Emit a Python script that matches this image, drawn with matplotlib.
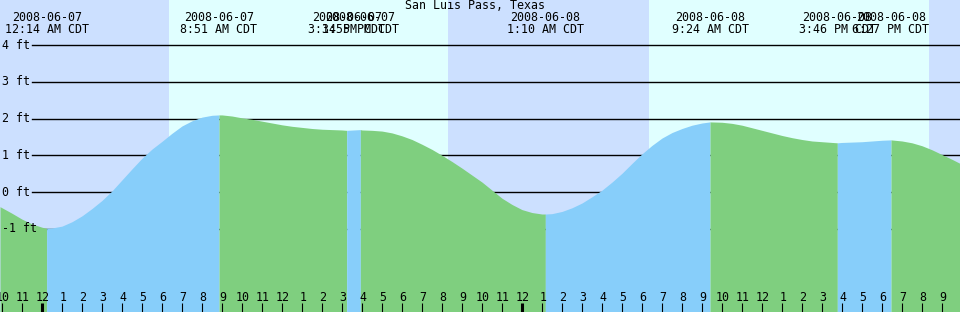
import pandas as pd
import numpy as np
import matplotlib.pyplot as plt

station = "San Luis Pass, Texas"
base = pd.Timestamp("2008-06-07 00:00")

# tide curve: hours after midnight Jun 7, height in ft
hours = [-2.1, -2, -1.5, -1, -0.5, 0, 0.5, 1, 1.5, 2, 2.5, 3, 3.5, 4, 4.5, 5,
         5.5, 6, 6.5, 7, 7.5, 8, 8.5, 9, 9.5, 10, 10.5, 11, 11.5, 12, 12.5,
         13, 13.5, 14, 14.5, 15, 16, 16.5, 17, 17.5, 18, 18.5, 19, 19.5, 20,
         20.5, 21, 21.5, 22, 22.5, 23, 23.5, 24, 24.5, 25, 25.5, 26, 26.5, 27,
         27.5, 28, 28.5, 29, 29.5, 30, 30.5, 31, 31.5, 32, 32.5, 33, 34, 34.5,
         35, 35.5, 36, 36.5, 37, 37.5, 38, 38.5, 39, 39.5, 40, 40.5, 41, 41.5,
         42, 43, 43.5, 44, 44.5, 45, 45.5, 45.9]
feet = [-0.40, -0.43, -0.58, -0.74, -0.87, -0.96, -0.98, -0.93, -0.81, -0.65,
        -0.45, -0.23, 0.03, 0.33, 0.63, 0.92, 1.17, 1.38, 1.60, 1.80, 1.94,
        2.04, 2.09, 2.10, 2.07, 2.02, 1.98, 1.93, 1.88, 1.83, 1.79, 1.76, 1.73,
        1.71, 1.70, 1.69, 1.69, 1.68, 1.66, 1.61, 1.53, 1.43, 1.30, 1.16, 1.00,
        0.83, 0.65, 0.46, 0.27, 0.05, -0.17, -0.34, -0.48, -0.56, -0.60, -0.59,
        -0.53, -0.43, -0.30, -0.13, 0.05, 0.27, 0.51, 0.78, 1.04, 1.27, 1.47,
        1.62, 1.73, 1.82, 1.88, 1.90, 1.87, 1.82, 1.75, 1.68, 1.61, 1.54, 1.48,
        1.43, 1.39, 1.37, 1.35, 1.35, 1.36, 1.37, 1.39, 1.41, 1.39, 1.34, 1.26,
        1.15, 1.02, 0.89, 0.78]

# high / low tides
event_times = ["2008-06-07 00:14", "2008-06-07 08:51", "2008-06-07 15:14",
               "2008-06-07 15:55", "2008-06-08 01:10", "2008-06-08 09:24",
               "2008-06-08 15:46", "2008-06-08 18:27"]
event_kind = ["low", "high", "low", "high", "low", "high", "low", "high"]
event_ft = [-0.99, 2.10, 1.68, 1.70, -0.60, 1.91, 1.34, 1.42]

# daylight, hours after midnight Jun 7
sunrise = [6.35, 30.35]
sunset = [20.3, 44.35]

ft_levels = [4, 3, 2, 1, 0, -1]

night_col = '#cce0ff'
day_col = '#e0ffff'
rise_col = '#87cefa'
fall_col = '#7fcf7f'
mono = 'DejaVu Sans Mono'
fs = 8.4

ev = pd.to_datetime(event_times)
ev_h = ((ev - base) / pd.Timedelta(hours=1)).to_numpy()

t = np.array(hours + list(ev_h))
h = np.array(feet + event_ft)
order = np.argsort(t)
t, h = t[order], h[order]

fig = plt.figure(figsize=(9.6, 3.12), dpi=100)
ax = fig.add_axes([0, 0, 1, 1])
x0, x1 = -2.1, 45.9
y0, y1 = -120 / 36.7, 192 / 36.7
ax.set_xlim(x0, x1)
ax.set_ylim(y0, y1)
ax.axis('off')

ax.axvspan(x0, x1, color=night_col, lw=0, zorder=0)
for a, b in zip(sunrise, sunset):
    ax.axvspan(a, b, color=day_col, lw=0, zorder=0.5)

# grid lines sit under the water
for lv in ft_levels:
    ax.plot([32 / 960 * (x1 - x0) + x0, x1], [lv, lv], color='black', lw=1.0, zorder=1)
    ax.text(0.002, lv, f"{lv} ft", ha='left', va='center', fontfamily=mono,
            fontsize=fs, transform=ax.get_yaxis_transform(), zorder=5)

# rising / falling fill between extremes
bounds = [x0] + list(ev_h) + [x1]
for i in range(len(bounds) - 1):
    a, b = bounds[i], bounds[i + 1]
    m = (t >= a) & (t <= b)
    if i == 0:
        rising = event_kind[0] == 'high'
    else:
        rising = event_kind[i - 1] == 'low'
    ax.fill_between(t[m], h[m], y0, color=rise_col if rising else fall_col,
                    lw=0, zorder=2)

xt = ax.get_xaxis_transform()
ax.text(475 / 960 * (x1 - x0) + x0, 0.981, station, ha='center', va='center',
        fontfamily=mono, fontsize=fs, transform=xt, zorder=5)
for when, eh in zip(ev, ev_h):
    ax.text(eh, 0.9455, when.strftime('%Y-%m-%d'), ha='center', va='center',
            fontfamily=mono, fontsize=fs, transform=xt, zorder=5)
    tl = when.strftime('%I:%M %p').lstrip('0') + ' CDT'
    ax.text(eh, 0.905, tl, ha='center', va='center',
            fontfamily=mono, fontsize=fs, transform=xt, zorder=5)

# hour ticks along the bottom
for hr in range(-2, 46):
    lab = hr % 12 or 12
    mid = hr % 24 == 0
    ax.plot([hr, hr], [0, 0.029], color='black', lw=2.2 if mid else 0.8,
            transform=xt, zorder=4, solid_capstyle='butt')
    ax.text(hr + 0.05, 0.047, str(lab), ha='center', va='center',
            fontfamily=mono, fontsize=fs, transform=xt, zorder=5)

fig.savefig('out.png', dpi=100)
